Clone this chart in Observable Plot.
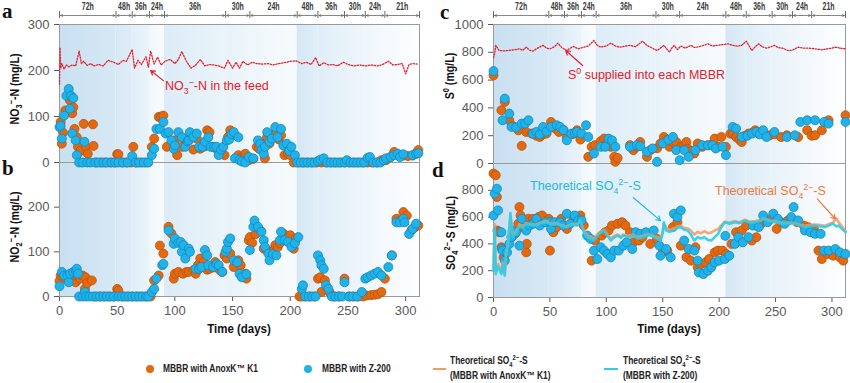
<!DOCTYPE html>
<html><head><meta charset="utf-8">
<script src="https://cdn.jsdelivr.net/npm/d3@7"></script>
<script src="https://cdn.jsdelivr.net/npm/@observablehq/plot@0.6"></script>
<style>
body{margin:0;background:#fff;font-family:"Liberation Sans",Arial,sans-serif;}
#root{position:relative;width:850px;height:383px;overflow:hidden;background:#fff;}
.abs{position:absolute;}
.lt{position:absolute;font-family:"Liberation Serif","Times New Roman",serif;font-weight:bold;font-size:21px;line-height:1;color:#111;}
.yt{position:absolute;font-weight:bold;font-size:12.5px;white-space:nowrap;transform:translate(-50%,-50%) rotate(-90deg) scaleX(0.85);color:#111;line-height:1;}
.yt sub,.yt sup,.an sub,.an sup,.lg sub,.lg sup{font-size:70%;line-height:0;}
.an{position:absolute;font-size:12.5px;white-space:nowrap;line-height:1;}
.xt{position:absolute;font-weight:bold;font-size:13.5px;transform:translateX(-50%) scaleX(0.85);white-space:nowrap;color:#111;line-height:1;}
.lg{position:absolute;font-weight:bold;font-size:10px;color:#222;white-space:nowrap;line-height:1;transform:scaleX(0.84);transform-origin:0 50%;}
.sw{position:absolute;}
</style></head>
<body><div id="root">
<svg width="0" height="0" style="position:absolute"><defs id="gdefs"></defs></svg>
</div>
<script>
// ---------------- data ----------------
const phaseLabel = ["72h","48h","36h","24h","36h","30h","24h","48h","36h","30h","24h","21h"];
const phaseStart = [0,49,63,78,91,144,165,206,224,247,265,282];
const phaseEnd   = [49,63,78,91,144,165,206,224,247,265,282,312];
const xTicks = [0,50,100,150,200,250,300];

// (a) NO3--N
const no3Feed = [[0,170],[0.5,250],[1,205],[2,215],[4,203],[6,212],[8,208],[11,212],[14,210],[17,242],[19,215],[21,220],[24,211],[27,215],[30,210],[34,213],[38,210],[42,222],[47,218],[51,213],[55,222],[58,220],[63,246],[65,205],[68,222],[71,213],[75,230],[77,207],[79,242],[82,214],[85,229],[88,212],[92,221],[96,224],[100,215],[103,224],[106,241],[110,220],[114,205],[118,212],[122,224],[126,210],[130,213],[134,212],[138,210],[143,205],[146,222],[150,205],[153,218],[156,205],[159,220],[163,212],[167,218],[171,215],[176,214],[181,215],[185,212],[190,215],[195,217],[200,220],[205,221],[210,215],[214,218],[218,213],[222,228],[225,210],[229,217],[233,212],[237,213],[241,210],[246,218],[250,213],[255,210],[260,212],[265,210],[270,212],[276,210],[280,213],[285,220],[289,212],[293,213],[297,215],[300,193],[303,213],[306,215],[310,214]];
const no3K1 = [[1,88],[2,41],[3,65],[5,113],[9,135],[11,107],[12,120],[13,73],[15,55],[16,34],[18,25],[21,84],[23,34],[24.5,19],[29,83],[29.5,36],[32,0],[36,0],[40,0],[44,0],[48,0],[50,18],[51,18],[54,0],[58,0],[62,0],[64,34],[67,0],[71,0],[75,0],[80,34],[82,52],[86,99],[88,100],[90,102],[93,34],[100,48],[102,16],[106,34],[109,50],[112,48],[116,28],[119,52],[122,30],[126,35],[128,70],[130,66],[133,34],[136,30],[139,30],[143,16],[146,55],[148,70],[150,63],[152,60],[155,16],[158,10],[161,19],[164,5],[168,8],[171,34],[173,30],[175,42],[178,9],[180,55],[182,41],[185,60],[188,63],[190,50],[192,59],[195,16],[198,20],[200,16],[203,0],[207,0],[211,0],[215,0],[219,0],[223,0],[227,0],[231,0],[235,0],[239,0],[243,0],[247,0],[251,0],[255,0],[259,0],[263,0],[267,0],[271,0],[275,0],[279,5],[283,5],[287,12],[290,23],[294,15],[298,15],[302,14],[306,15],[309,20],[311,27]];
const no3Z200 = [[0,77],[1,80],[2,52],[4,102],[6,145],[8,160],[9,117],[10,145],[11,63],[12,140],[14,48],[15,16],[17,0],[20,0],[21.6,45],[24,0],[27,0],[31,0],[34,0],[38,0],[41,0],[45,0],[48,0],[51,0],[55,0],[59,0],[63,14],[66,0],[69,0],[73,0],[77,0],[80,16],[82,30],[84,73],[87,73],[90,88],[92,63],[94.5,66],[97,48],[99,30],[100,37],[103,66],[106,55],[109,34],[111,46],[112,48],[113,66],[116,55],[119,63],[121,34],[124,34],[126,45],[129,55],[131,34],[134,34],[136,34],[138,16],[140,28],[142,34],[145,48],[147,50],[149,62],[151,66],[152,9],[155,55],[156,5],[158,2],[161,0],[164,12],[168,9],[172,48],[174,40],[175,27],[177,19],[178,34],[180,66],[182,45],[184,52],[187,77],[189,55],[192,73],[194,37],[197,41],[199,25],[201,34],[204,16],[206,0],[209,0],[212,0],[215,0],[218,0],[221,0],[224,3],[226,6],[229,9],[232,0],[235,0],[238,0],[241,0],[244,0],[247,0],[249,5],[252,0],[255,0],[258,0],[261,0],[264,0],[267,10],[269,12],[272,0],[275,0],[278,0],[281,5],[283,9],[287,12],[290,16],[293,19],[295,12],[298,18],[306,16],[309,19],[311,20]];

// (b) NO2--N
const no2K1 = [[0,35],[1,47],[3,50],[6,40],[9,45],[11,40],[14,32],[15,47],[18,40],[20,47],[22,17],[22.5,43],[24,30],[28,36],[31,0],[35,0],[39,0],[43,0],[47,0],[50,17],[51,13],[55,0],[59,0],[63,0],[67,0],[71,0],[75,0],[79,0],[82,36],[86,47],[87,114],[90,96],[94.5,156],[97,141],[99,40],[100,51],[103,55],[107,51],[110,55],[112,55],[116,59],[118,51],[120,70],[122,85],[125,77],[128,60],[130,62],[133,65],[135,77],[139,59],[141,55],[143,92],[145,85],[148,96],[151,66],[155,81],[157,70],[159,45],[161,51],[162,40],[164,126],[165,133],[167,120],[170,140],[174,148],[177,107],[180,104],[184,100],[187,115],[189,110],[191,119],[194,141],[197,125],[200,137],[203,107],[205,130],[208,0],[210,0],[213,0],[217,0],[221,0],[224,40],[226,43],[227,10],[230,36],[232,20],[234,10],[238,0],[242,0],[247,40],[251,0],[255,0],[259,0],[263,0],[266,2],[270,3],[273,4],[276,5],[279,10],[282,40],[288,92],[292,174],[295,170],[298,189],[301,181],[305,148],[308,155],[311,159]];
const no2Z200 = [[0,23],[2,55],[4,47],[7,47],[8,32],[9,51],[12,55],[14,58],[15,62],[16,51],[17,0],[20,0],[22,10],[23,0],[26,0],[29,0],[32,0],[35,0],[38,0],[41,0],[44,0],[47,0],[51,0],[54,0],[57,0],[60,0],[63,0],[66,0],[69,0],[72,0],[75,0],[77,0],[80,10],[82,17],[84,40],[89,70],[90,73],[94.5,148],[99,118],[100,130],[103,120],[105,122],[106,100],[107.5,115],[109,85],[112,107],[113,100],[118,62],[121,62],[123,66],[126,104],[128,92],[129,70],[133,66],[136,73],[138,70],[141,55],[144,100],[145,107],[146,122],[148,130],[151,81],[154,77],[156,51],[158,43],[162,50],[165,104],[168,156],[169,170],[172,156],[175,145],[177,126],[178,111],[181,96],[182,81],[185,95],[188,92],[191,126],[192,145],[195,126],[198,122],[201,111],[204,119],[207,133],[210,17],[211,25],[213,0],[216,0],[219,0],[222,0],[224,92],[226,81],[227,70],[229,62],[231,25],[233,17],[236,0],[239,0],[242,0],[245,0],[247,32],[251,0],[254,0],[258,0],[262,10],[265,40],[267,43],[270,47],[273,51],[276,55],[279,47],[285,66],[288,92],[292,166],[295,166],[298,174],[299,166],[303,140],[306,151],[309,163]];

// (c) S0
const s0Feed = [[0,760],[1,790],[2,850],[5,813],[10,810],[15,815],[20,820],[23,825],[26,815],[29,837],[32,815],[35,808],[39,830],[44,850],[47,830],[50,825],[54,840],[57,866],[61,830],[65,813],[68,830],[71,842],[75,825],[80,837],[84,845],[89,885],[92,850],[95,837],[100,845],[104,866],[108,845],[112,837],[117,845],[121,850],[126,840],[132,880],[136,850],[139,837],[143,820],[145,813],[148,830],[151,850],[154,820],[156,801],[158,830],[160,850],[163,820],[166,845],[170,830],[175,850],[178,835],[182,840],[186,850],[190,861],[194,845],[198,850],[203,855],[208,861],[212,850],[216,845],[220,850],[224,880],[227,840],[229,813],[232,840],[235,861],[238,840],[242,830],[246,840],[249,850],[252,835],[256,830],[261,813],[265,815],[270,837],[275,830],[280,830],[285,825],[291,818],[296,825],[300,830],[303,837],[307,830],[312,825]];
const s0K1 = [[0,634],[7,383],[10,443],[14,311],[17,270],[22,239],[25,127],[29,227],[34,215],[38,200],[41,191],[44,210],[47,215],[51,299],[55,250],[58,227],[62,240],[65,191],[70,210],[74,239],[77,172],[84,48],[87,120],[90,132],[95,160],[98,179],[101,150],[104,120],[107,48],[108,12],[110,40],[121,132],[124,96],[127,120],[130,155],[136,48],[139,96],[145,110],[148,144],[151,191],[154,170],[156,120],[160,150],[162,155],[166,120],[169,130],[171,155],[172,108],[175,90],[178,72],[181,144],[185,120],[190,132],[194,140],[196,179],[199,120],[202,191],[206,120],[210,215],[212,215],[215,191],[218,170],[220,155],[223,200],[226,215],[229,220],[232,239],[235,215],[239,220],[242,200],[245,203],[249,210],[255,190],[260,203],[270,190],[278,239],[282,200],[285,203],[291,239],[297,311],[312,347]];
const s0Z200 = [[0,665],[8,311],[10,467],[14,359],[16,263],[20,260],[25,287],[28,287],[31,311],[35,215],[38,227],[41,210],[44,263],[47,230],[51,263],[56,275],[59,263],[62,240],[65,167],[69,215],[72,220],[74,227],[78,215],[82,275],[84,191],[89,72],[95,120],[99,120],[102,179],[105,167],[108,120],[121,120],[127,132],[130,125],[136,84],[141,108],[145,12],[150,144],[155,170],[159,191],[162,96],[165,24],[169,96],[173,48],[179,96],[185,132],[190,130],[194,132],[197,108],[203,120],[206,60],[212,263],[215,251],[220,191],[225,200],[229,215],[233,227],[236,210],[239,239],[242,191],[249,227],[260,191],[267,203],[272,299],[278,311],[285,311],[293,299],[297,287],[312,299]];

// (d) SO4 2--S
const so4TheoK1 = [[0,220],[1,550],[2,200],[4,250],[7,190],[8,260],[10,180],[11,320],[13,420],[15,600],[17,470],[20,490],[23,545],[26,530],[29,555],[33,545],[38,545],[42,560],[47,570],[51,550],[56,555],[60,540],[65,530],[70,550],[74,545],[77,570],[80,500],[83,465],[86,455],[89,440],[93,480],[98,505],[101,470],[104,440],[107,460],[110,470],[113,455],[115,470],[120,460],[124,470],[128,450],[133,460],[137,475],[142,460],[145,450],[148,440],[150,490],[151,550],[153,520],[156,505],[160,515],[163,530],[166,535],[169,520],[172,515],[175,500],[178,470],[181,490],[184,480],[187,495],[190,480],[193,485],[196,500],[199,510],[202,540],[205,565],[209,560],[214,570],[218,560],[223,580],[227,565],[232,570],[236,575],[240,590],[245,575],[249,570],[254,560],[258,555],[263,560],[267,555],[271,545],[276,535],[280,540],[285,545],[290,540],[294,535],[298,550],[301,560],[304,590],[306,560],[309,530],[312,495]];
const so4TheoZ200 = [[0,200],[1,525],[2,175],[4,230],[7,175],[8,240],[10,162],[11,300],[13,400],[15,630],[17,450],[20,475],[23,537],[26,520],[29,550],[33,540],[38,537],[42,555],[47,562],[51,545],[56,550],[60,535],[65,525],[70,545],[74,537],[77,575],[80,487],[83,450],[86,440],[89,425],[93,470],[98,500],[101,460],[104,425],[107,450],[110,462],[113,445],[115,462],[120,450],[124,462],[128,440],[133,450],[137,470],[142,450],[145,440],[148,425],[150,480],[151,562],[153,500],[156,490],[160,500],[163,520],[166,525],[169,505],[172,500],[175,470],[178,425],[181,450],[184,440],[187,450],[190,430],[193,425],[196,450],[199,475],[202,525],[205,562],[209,550],[214,562],[218,555],[223,575],[227,560],[232,562],[236,570],[240,587],[245,570],[249,562],[254,555],[258,550],[263,555],[267,550],[271,540],[276,525],[280,530],[285,537],[290,530],[294,525],[298,540],[301,550],[304,530],[306,537],[309,510],[312,487]];
const so4K1 = [[0,925],[2,912],[3,750],[3.5,500],[5,487],[7,375],[9,300],[11,337],[16,450],[19,475],[22,550],[23,675],[24,612],[26,525],[29,337],[29.5,400],[31,587],[35,587],[40,600],[43,612],[49,587],[50,350],[53,487],[56,525],[60,587],[65,512],[71,587],[74,575],[77,612],[80,537],[87,275],[90,425],[96,462],[99,487],[102,500],[105,537],[110,550],[114,562],[117,537],[121,487],[124,412],[129,425],[132,450],[139,400],[145,437],[150,337],[154,350],[159,525],[163,562],[166,387],[171,300],[175,275],[179,375],[181,225],[184,250],[188,262],[191,287],[196,337],[199,350],[203,350],[206,325],[211,400],[215,487],[220,500],[224,537],[229,425],[233,450],[237,550],[242,575],[246,587],[251,512],[255,562],[261,575],[269,562],[275,537],[279,525],[284,512],[288,350],[291,287],[296,325],[301,312],[307,300],[310,275]];
const so4Z200 = [[0,612],[1,775],[3,812],[4,650],[7,487],[7.5,362],[8,350],[10,275],[12,337],[14,400],[16,450],[17,500],[20,487],[23,387],[25,587],[29,500],[32,537],[35,550],[38,587],[41,537],[46,562],[50,562],[51,512],[54,562],[59,562],[62,537],[65,625],[68,550],[72,612],[75,575],[78,575],[83,462],[86,437],[89,350],[92,287],[95,375],[98,350],[101,325],[104,300],[107,350],[111,350],[115,387],[118,412],[123,362],[126,487],[130,475],[135,487],[142,500],[147,387],[148,312],[153,362],[157,300],[160,625],[163,600],[166,650],[169,425],[173,362],[178,350],[181,275],[182,187],[186,175],[190,200],[193,225],[196,262],[200,275],[205,287],[205.5,460],[209,312],[214,400],[217,450],[221,412],[226,450],[230,537],[235,525],[239,612],[243,562],[248,625],[252,587],[258,550],[264,600],[266,675],[270,575],[276,500],[281,487],[285,475],[290,475],[293,350],[297,350],[303,362],[307,337],[312,325]];

// annotation arrows (tail -> head, in data units)
const arrowA = [{x1:90,y1:178,x2:79,y2:200}];
const arrowC = [{x1:79,y1:705,x2:64,y2:813}];
const arrowDz = [{x1:124,y1:745,x2:148,y2:574}];
const arrowDk = [{x1:287,y1:736,x2:303,y2:586}];

// ---------------- style ----------------
const bandFrom = ["#c9e0f1","#d7e8f5","#e1eef8","#f0f7fc","#dcecf7","#e7f2f9","#eef6fb","#d4e7f4","#dfedf7","#e8f2f9","#eef6fb","#f5f9fd"];
const bandTo   = ["#d6e8f4","#deecf7","#e9f3fa","#f8fbfe","#eaf4fa","#eef6fb","#f7fbfd","#e1eef8","#e9f3fa","#eff6fb","#f4f9fc","#fdfeff"];
const ORANGE = "#e4690e", ORANGE_EDGE = "#b8530c", BLUE = "#1fb3ea", BLUE_EDGE = "#1586bd";
const THEO_K1 = "#f39a62", THEO_Z = "#2fcbe9", FEED = "#e5202c";
const FONT = '"Liberation Sans", Arial, sans-serif';

const defs = document.getElementById("gdefs");
phaseStart.forEach((s, i) => {
  defs.innerHTML += `<linearGradient id="bg${i}" x1="0" x2="1" y1="0" y2="0"><stop offset="0" stop-color="${bandFrom[i]}"/><stop offset="1" stop-color="${bandTo[i]}"/></linearGradient>`;
});
const bands = phaseStart.map((s, i) => ({i, start: s, end: phaseEnd[i], mid: (s + phaseEnd[i]) / 2, label: phaseLabel[i]}));
const edges = [...phaseStart, phaseEnd[phaseEnd.length - 1]];
const X = d => d[0], Y = d => d[1];
const baseStyle = {background: "transparent", overflow: "visible", fontFamily: FONT, fontSize: "13px", color: "#595959"};
const root = document.getElementById("root");
function place(el, left, top, z) {
  const d = document.createElement("div");
  d.className = "abs"; d.style.left = left + "px"; d.style.top = top + "px"; d.style.zIndex = z;
  d.appendChild(el); root.appendChild(d);
  return el;
}
function strip(width, mr) {
  return Plot.plot({
    width, height: 20, marginLeft: 59, marginRight: mr, marginTop: 0, marginBottom: 0,
    x: {domain: [0, 312], axis: null}, y: {domain: [0, 1], axis: null}, style: baseStyle,
    marks: [
      Plot.ruleX(edges, {x: d => d, y1: () => 0.1, y2: () => 0.45, stroke: "#6a6a6a", strokeWidth: 1}),
      Plot.arrow(bands, {x1: "mid", x2: "start", y1: () => 0.25, y2: () => 0.25, stroke: "#6a6a6a", strokeWidth: 0.8, headLength: 4, headAngle: 50, insetEnd: 1, bend: 0}),
      Plot.arrow(bands, {x1: "mid", x2: "end", y1: () => 0.25, y2: () => 0.25, stroke: "#6a6a6a", strokeWidth: 0.8, headLength: 4, headAngle: 50, insetEnd: 1, bend: 0}),
      Plot.text(bands, {x: "mid", y: () => 0.7, text: "label", fontWeight: "bold", fontSize: 10, fill: "#3c3c3c"})
    ]
  });
}
function condense(svg, k) {
  svg.querySelectorAll("text").forEach(t => {
    const L = t.getComputedTextLength();
    if (L > 0) { t.setAttribute("textLength", (L * k).toFixed(2)); t.setAttribute("lengthAdjust", "spacingAndGlyphs"); }
  });
}
function bg() {
  return [Plot.rect(bands, {x1: "start", x2: "end", fill: d => `url(#bg${d.i})`}), Plot.frame({stroke: "#9a9a9a", strokeWidth: 1})];
}
function dots(k1, z) {
  return [
    Plot.dot(k1, {x: X, y: Y, r: 4.5, fill: ORANGE, stroke: ORANGE_EDGE, strokeWidth: 0.8}),
    Plot.dot(z, {x: X, y: Y, r: 4.5, fill: BLUE, stroke: BLUE_EDGE, strokeWidth: 0.8})
  ];
}
function arrowMark(data, color) {
  return Plot.arrow(data, {x1: "x1", y1: "y1", x2: "x2", y2: "y2", stroke: color, strokeWidth: 1.2, headLength: 6, bend: 0});
}
const fmt = d => String(d);

// strips
condense(place(strip(425, 6), 0, 0, 3), 0.7);
condense(place(strip(416, 5), 434, 0, 3), 0.7);

// (a)
place(Plot.plot({
  width: 425, height: 143, marginLeft: 59, marginRight: 6, marginTop: 4, marginBottom: 1,
  style: baseStyle, color: {type: "identity"},
  x: {domain: [0, 312], axis: null},
  y: {domain: [0, 300], ticks: [0, 100, 200, 300], tickFormat: fmt, tickSize: 5, tickPadding: 5, label: null},
  marks: [...bg(),
    Plot.line(no3Feed, {x: X, y: Y, stroke: FEED, strokeWidth: 1.3, strokeDasharray: "1.3 1.6"}),
    arrowMark(arrowA, FEED),
    ...dots(no3K1, no3Z200)]
}), 0, 20, 2);

// (b)
place(Plot.plot({
  width: 425, height: 180, marginLeft: 59, marginRight: 6, marginTop: 0, marginBottom: 46,
  style: baseStyle, color: {type: "identity"},
  x: {domain: [0, 312], ticks: xTicks, tickFormat: fmt, tickSize: 5, tickPadding: 4, label: null},
  y: {domain: [0, 300], ticks: [0, 100, 200], tickFormat: fmt, tickSize: 5, tickPadding: 5, label: null},
  marks: [...bg(), ...dots(no2K1, no2Z200)]
}), 0, 162, 1);

// (c)
place(Plot.plot({
  width: 416, height: 143, marginLeft: 59, marginRight: 5, marginTop: 4, marginBottom: 0,
  style: baseStyle, color: {type: "identity"},
  x: {domain: [0, 312], axis: null},
  y: {domain: [0, 1000], ticks: [0, 200, 400, 600, 800, 1000], tickFormat: fmt, tickSize: 5, tickPadding: 5, label: null},
  marks: [...bg(),
    Plot.line(s0Feed, {x: X, y: Y, stroke: FEED, strokeWidth: 1.3, strokeDasharray: "1.3 1.6"}),
    arrowMark(arrowC, FEED),
    ...dots(s0K1, s0Z200)]
}), 434, 20, 2);

// (d)
place(Plot.plot({
  width: 416, height: 180, marginLeft: 59, marginRight: 5, marginTop: 0, marginBottom: 46,
  style: baseStyle, color: {type: "identity"},
  x: {domain: [0, 312], ticks: xTicks, tickFormat: fmt, tickSize: 5, tickPadding: 4, label: null},
  y: {domain: [0, 1000], ticks: [0, 200, 400, 600, 800], tickFormat: fmt, tickSize: 5, tickPadding: 5, label: null},
  marks: [...bg(), ...dots(so4K1, so4Z200),
    Plot.line(so4TheoK1, {x: X, y: Y, stroke: THEO_K1, strokeWidth: 2.6, strokeOpacity: 0.85}),
    Plot.line(so4TheoZ200, {x: X, y: Y, stroke: THEO_Z, strokeWidth: 2.6, strokeOpacity: 0.9}),
    arrowMark(arrowDz, "#22b8e0"),
    arrowMark(arrowDk, "#ef7a3a")]
}), 434, 163, 1);

// ---------------- text overlays ----------------
const html = [
  `<div class="lt" style="left:2px;top:1px">a</div>`,
  `<div class="lt" style="left:2px;top:158px">b</div>`,
  `<div class="lt" style="left:440px;top:2px">c</div>`,
  `<div class="lt" style="left:432px;top:160px">d</div>`,
  `<div class="yt" style="left:15px;top:89px">NO<sub>3</sub><sup>−</sup>-N (mg/L)</div>`,
  `<div class="yt" style="left:15px;top:227px">NO<sub>2</sub><sup>−</sup>-N (mg/L)</div>`,
  `<div class="yt" style="left:450px;top:76px">S<sup>0</sup> (mg/L)</div>`,
  `<div class="yt" style="left:451px;top:233px">SO<sub>4</sub><sup>2−</sup>-S (mg/L)</div>`,
  `<div class="an" style="left:165px;top:80px;color:${FEED}">NO<sub>3</sub><sup>−</sup>-N in the feed</div>`,
  `<div class="an" style="left:568px;top:69px;color:${FEED}">S<sup>0</sup> supplied into each MBBR</div>`,
  `<div class="an" style="left:530px;top:180px;color:#22b8e0">Theoretical SO<sub>4</sub><sup>2−</sup>-S</div>`,
  `<div class="an" style="left:715px;top:185px;color:#ef7a3a">Theoretical SO<sub>4</sub><sup>2−</sup>-S</div>`,
  `<div class="xt" style="left:239px;top:322px">Time (days)</div>`,
  `<div class="xt" style="left:669px;top:322px">Time (days)</div>`,
  `<div class="sw" style="left:146px;top:365px;width:8px;height:8px;border-radius:50%;background:${ORANGE}"></div>`,
  `<div class="lg" style="left:163px;top:364px">MBBR with AnoxK™ K1</div>`,
  `<div class="sw" style="left:304px;top:365px;width:8px;height:8px;border-radius:50%;background:${BLUE}"></div>`,
  `<div class="lg" style="left:322px;top:364px">MBBR with Z-200</div>`,
  `<div class="sw" style="left:433px;top:368px;width:13px;height:2px;background:${THEO_K1}"></div>`,
  `<div class="lg" style="left:450px;top:356px">Theoretical SO<sub>4</sub><sup>2−</sup>-S</div>`,
  `<div class="lg" style="left:450px;top:371px">(MBBR with AnoxK™ K1)</div>`,
  `<div class="sw" style="left:604px;top:368px;width:14px;height:2px;background:${THEO_Z}"></div>`,
  `<div class="lg" style="left:623px;top:356px">Theoretical SO<sub>4</sub><sup>2−</sup>-S</div>`,
  `<div class="lg" style="left:623px;top:371px">(MBBR with Z-200)</div>`
];
const ov = document.createElement("div");
ov.innerHTML = html.join("");
[...ov.children].forEach(c => { c.style.zIndex = 5; root.appendChild(c); });
</script>
</body></html>
